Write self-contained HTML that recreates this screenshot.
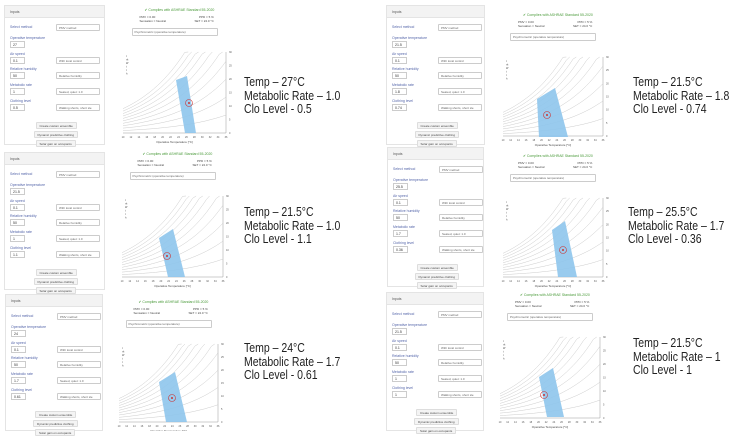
<!DOCTYPE html>
<html><head><meta charset="utf-8"><style>
*{margin:0;padding:0;box-sizing:border-box}
body{width:730px;height:431px;background:#fff;position:relative;overflow:hidden;font-family:"Liberation Sans",sans-serif}
.a{position:absolute;white-space:nowrap}
.big{position:absolute;font-size:12.5px;line-height:14px;color:#222;white-space:nowrap;transform:scaleX(0.84);transform-origin:0 0}
.form{position:absolute;border:1px solid #e4e4e4;background:#fff}
.hd{position:absolute;left:0;right:0;top:0;height:12px;background:#f3f3f3;border-bottom:1px solid #e4e4e4;font-size:3.5px;color:#555;padding:4px 5px}
.lb{position:absolute;font-size:3.5px;color:#5566aa}
.in{position:absolute;height:7px;border:1px solid #ccc;font-size:3.5px;color:#333;padding:1px 2px;background:#fff}
.sel{position:absolute;height:7px;border:1px solid #ccc;border-radius:1px;font-size:3px;color:#666;padding:1px 2px;background:#fff}
.btn{position:absolute;height:7px;border:1px solid #ddd;background:#f4f4f4;font-size:3px;color:#444;padding:1px 3px;border-radius:1px}
</style></head><body>
<div id="root"></div>
<script>
const P=[
{f:[4,5,101,140],c:[123,226,133,52],b:[[176,80],[187,76],[196,133],[185,133]],o:[189,103],t:[244,82],L:["Temp – 27°C","Metabolic Rate – 1.0","Clo Level -  0.5"],v:["27","0.1","50","1","0.5"]},
{f:[4,152,101,138],c:[122,223,277,196],b:[[159,238],[173,229],[185,277],[168,277]],o:[167,256],t:[244,212],L:["Temp – 21.5°C","Metabolic Rate – 1.0","Clo Level -  1.1"],v:["21.5","0.1","50","1","1.1"]},
{f:[5,294,98,137],c:[119,218,422,344],b:[[159,382],[175,372],[187,422],[166,422]],o:[172,398],t:[244,348],L:["Temp – 24°C","Metabolic Rate – 1.7","Clo Level -  0.61"],v:["24","0.1","50","1.7","0.61"]},
{f:[386,5,99,140],c:[503,603,136,57],b:[[537,99],[555,88],[568,137],[539,137]],o:[547,115],t:[633,82],L:["Temp – 21.5°C","Metabolic Rate – 1.8","Clo Level -  0.74"],v:["21.5","0.1","50","1.8","0.74"]},
{f:[387,147,97,140],c:[503,603,277,198],b:[[552,230],[565,221],[577,277],[558,277]],o:[563,250],t:[628,212],L:["Temp – 25.5°C","Metabolic Rate – 1.7","Clo Level -  0.36"],v:["25.5","0.1","50","1.7","0.36"]},
{f:[386,292,98,139],c:[500,600,418,337],b:[[539,377],[553,368],[564,417],[547,417]],o:[544,395],t:[633,343],L:["Temp – 21.5°C","Metabolic Rate – 1","Clo Level -  1"],v:["21.5","0.1","50","1","1"]}
];
let h='',s='';
for(const p of P){
 const [fx,fy,fw,fh]=p.f;
 h+=`<div class="form" style="left:${fx}px;top:${fy}px;width:${fw}px;height:${fh}px"><div class="hd">Inputs</div>`;
 const labs=["Operative temperature","Air speed","Relative humidity","Metabolic rate","Clothing level"];
 const sels=["","With local control","Relative humidity","Seated, quiet: 1.0","Walking shorts, short sle"];
 h+=`<div class="lb" style="left:5px;top:19px">Select method</div><div class="sel" style="left:51px;top:18px;width:44px">PMV method</div>`;
 const ys=[30,46,61,77,93];
 for(let i=0;i<5;i++){
  h+=`<div class="lb" style="left:5px;top:${ys[i]}px">${labs[i]}</div><div class="in" style="left:5px;top:${ys[i]+5}px;width:15px">${p.v[i]}</div>`;
  if(sels[i])h+=`<div class="sel" style="left:51px;top:${ys[i]+5}px;width:44px">${sels[i]}</div>`;
 }
 const bx=fw/2;
 ["Create custom ensemble","Dynamic predictive clothing","Solar gain on occupants"].forEach((t,i)=>{h+=`<div class="btn" style="left:${bx-20-i*2+ (i==2?4:0)}px;top:${116+i*9}px">${t}</div>`});
 h+=`</div>`;
 const [x0,x1,yb,yt]=p.c, cx=(x0+x1)/2;
 h+=`<div class="a" style="left:${cx-30}px;top:${yt-44}px;font-size:3.5px;color:#4a9a3a">✔ Complies with ASHRAE Standard 55-2020</div>`;
 h+=`<div class="a" style="left:${cx-35}px;top:${yt-37}px;font-size:3px;color:#444;line-height:4px">PMV = 0.00<br>Sensation = Neutral</div>`;
 h+=`<div class="a" style="left:${cx+20}px;top:${yt-37}px;font-size:3px;color:#444;line-height:4px;text-align:right">PPD = 5 %<br>SET = 24.0 °C</div>`;
 h+=`<div class="sel" style="left:${cx-43}px;top:${yt-24}px;width:86px;height:8px">Psychrometric (operative temperature)</div>`;
 const W=x1-x0,H=yb-yt;
 s+=`<line x1="${x0}" y1="${yb}" x2="${x1}" y2="${yb}" stroke="#999" stroke-width="0.5"/><line x1="${x1}" y1="${yt}" x2="${x1}" y2="${yb}" stroke="#999" stroke-width="0.5"/>`;
 for(let k=1;k<=10;k++){
  let d='';
  for(let j=0;j<=30;j++){
   const u=j/30, x=x0+u*W;
   const y=yb-H*(k/10)*0.3*Math.exp(2.0*u);
   d+=(j?'L':'M')+x.toFixed(1)+' '+Math.max(y,yt).toFixed(1);
   if(y<yt)break;
  }
  s+=`<path d="${d}" fill="none" stroke="#ccc" stroke-width="0.5"/>`;
 }
 s+=`<polygon points="${p.b.map(q=>q.join(',')).join(' ')}" fill="#8ec5ec" opacity="0.9"/>`;
 s+=`<circle cx="${p.o[0]}" cy="${p.o[1]}" r="3.5" fill="none" stroke="#c33" stroke-width="0.6"/><circle cx="${p.o[0]}" cy="${p.o[1]}" r="1" fill="#c33"/>`;
 for(let k=0;k<=13;k++){s+=`<text x="${x0+k*W/13}" y="${yb+5}" font-size="2.5" fill="#555" text-anchor="middle">${10+2*k}</text>`}
 s+=`<text x="${cx}" y="${yb+10}" font-size="3" fill="#444" text-anchor="middle">Operative Temperature [°C]</text>`;
 for(let k=0;k<=6;k++){s+=`<text x="${x1+3}" y="${yb-k*H/6+1}" font-size="2.5" fill="#555">${k*5}</text>`}
 s+=`<text x="${x0+3}" y="${yt+5}" font-size="2.5" fill="#444">t<tspan x="${x0+3}" dy="3.5">rh</tspan><tspan x="${x0+3}" dy="3.5">W</tspan><tspan x="${x0+3}" dy="3.5">t</tspan><tspan x="${x0+3}" dy="3.5">t</tspan><tspan x="${x0+3}" dy="3.5">h</tspan></text>`;
 p.L.forEach((t,i)=>{h+=`<div class="big" style="left:${p.t[0]}px;top:${p.t[1]-7+i*13.7}px">${t}</div>`});
}
document.getElementById('root').innerHTML=h+`<svg width="730" height="431" style="position:absolute;left:0;top:0">${s}</svg>`;
</script>
</body></html>
